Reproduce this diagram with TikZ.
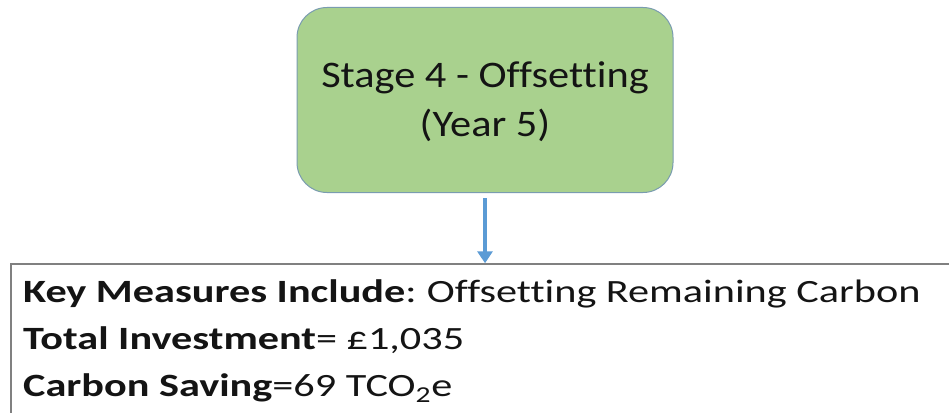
\documentclass[tikz,border=0pt]{standalone}
\usepackage{fontspec}
\setmainfont[Ligatures=CommonOff]{Carlito}
\usetikzlibrary{arrows.meta}
\definecolor{stagegreen}{HTML}{A9D18E}
\definecolor{stageedge}{HTML}{7A9CB0}
\definecolor{arrowblue}{HTML}{5B9BD5}
\definecolor{boxgray}{HTML}{808080}
\definecolor{textblack}{HTML}{141414}
\tikzset{
  stagebox/.style={draw=stageedge, line width=1pt, fill=stagegreen, rounded corners=30pt,
    minimum width=376pt, minimum height=185pt, inner sep=0pt},
  stagetext/.style={align=center, text=textblack, inner sep=0pt,
    font=\fontsize{37.5}{49}\selectfont},
  keybox/.style={draw=boxgray, line width=1.5pt, minimum width=1000pt, minimum height=200pt, inner sep=0pt},
  keyline/.style={anchor=base west, inner sep=0pt, text=textblack, font=\fontsize{32.5}{46}\selectfont},
  flowarrow/.style={draw=arrowblue, line width=3.5pt, -{Triangle[width=15pt,length=12pt]}}
}
\newcommand{\wideA}[1]{\scalebox{1.13}[1]{#1}}
\newcommand{\wideB}[1]{\scalebox{1.3}[1]{#1}}
\begin{document}
\begin{tikzpicture}[x=1pt,y=-1pt]
\useasboundingbox (0,0) rectangle (949,412);
\fill[white] (0,0) rectangle (949,412);
\begin{scope}
\clip (0,0) rectangle (949,412);
\node[stagebox] (s4) at (485,100) {};
\node[stagetext] (s4text) at (485,101.5) {\wideA{Stage 4 - Offsetting}\\\wideA{(Year 5)}};
\node[keybox] (kb) at (511,364) {};
\node[keyline] (l1) at (23,302.5) {\wideB{\textbf{Key Measures Include}:\hspace{-2pt} Offsetting Remaining Carbon}};
\node[keyline] (l2) at (23,349.5) {\wideB{\textbf{Total Investment}= £1,035}};
\node[keyline] (l3) at (23,396.5) {\wideB{\textbf{Carbon Saving}=69 TCO\textsubscript{2}e}};
\draw[flowarrow, shorten <=5pt] (s4.south) -- (s4.south |- kb.north);
\end{scope}
\end{tikzpicture}
\end{document}
